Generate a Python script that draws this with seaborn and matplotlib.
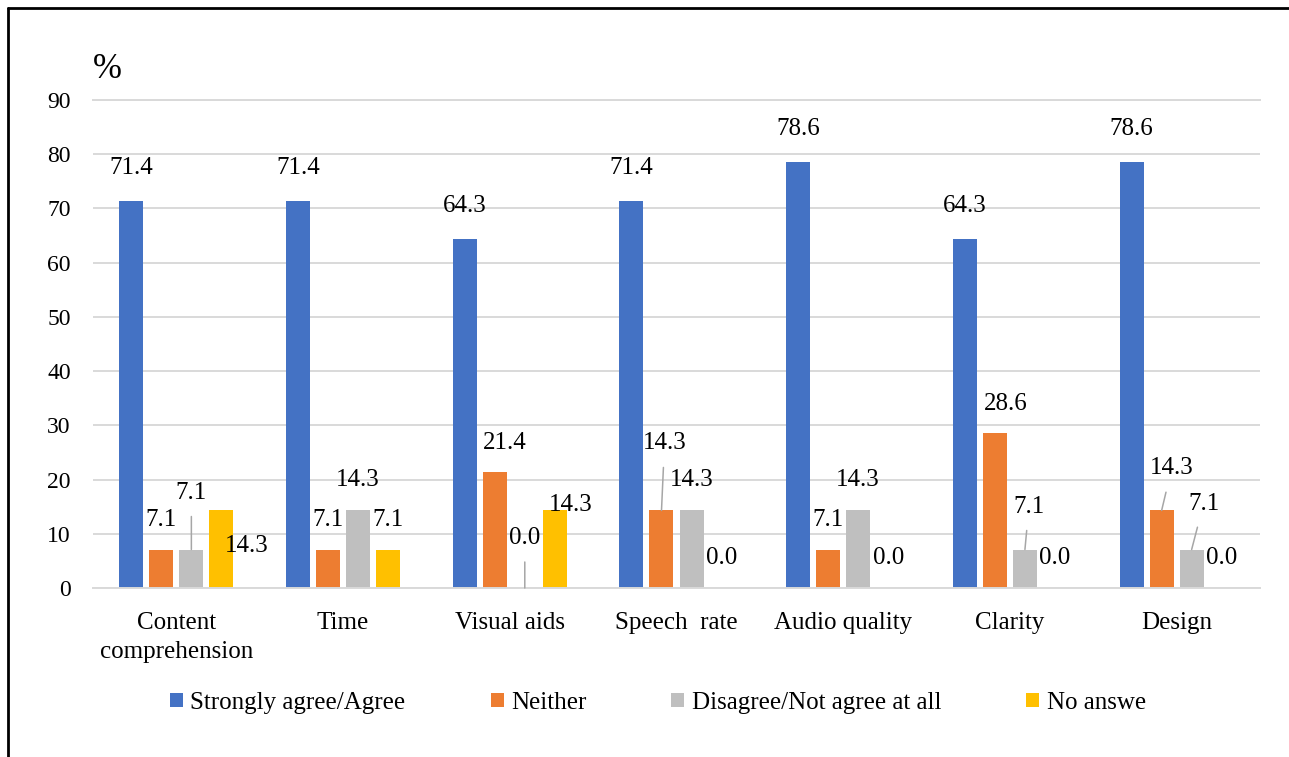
import matplotlib
matplotlib.use("Agg")
import matplotlib.pyplot as plt
from matplotlib.lines import Line2D
from matplotlib.patches import Patch
import seaborn as sns
import pandas as pd

categories = ["Content\ncomprehension", "Time", "Visual aids", "Speech  rate",
              "Audio quality", "Clarity", "Design"]
series_names = ["Strongly agree/Agree", "Neither", "Disagree/Not agree at all", "No answe"]
agree = [71.4, 71.4, 64.3, 71.4, 78.6, 64.3, 78.6]
neither = [7.1, 7.1, 21.4, 14.3, 7.1, 28.6, 14.3]
disagree = [7.1, 14.3, 0.0, 14.3, 14.3, 7.1, 7.1]
no_answer = [14.3, 7.1, 14.3, 0.0, 0.0, 0.0, 0.0]
y_ticks = [0, 10, 20, 30, 40, 50, 60, 70, 80, 90]

colors = ["#4472C4", "#ED7D31", "#BFBFBF", "#FFC000"]

all_series = [agree, neither, disagree, no_answer]
rows = []
for name, vals in zip(series_names, all_series):
    for c, v in zip(categories, vals):
        rows.append({"Category": c, "Response": name, "Value": v})
df = pd.DataFrame(rows)

sns.set_style("white")
plt.rcParams["font.family"] = ["Liberation Serif", "DejaVu Serif"]
plt.rcParams["text.color"] = "#000000"

FS = 18

fig = plt.figure(figsize=(12.89, 7.57), dpi=100)
ax = fig.add_axes([93 / 1289, 1 - 588 / 757, (1260 - 93) / 1289, (588 - 100) / 757])

sns.barplot(data=df, x="Category", y="Value", hue="Response", palette=colors,
            saturation=1, width=0.72, gap=0.2, errorbar=None, linewidth=0, ax=ax,
            order=categories, hue_order=series_names)

ax.set_ylim(0, 90)
ax.set_yticks(y_ticks)
ax.set_xlim(-0.5, len(categories) - 0.5)
ax.set_xticks(range(len(categories)), labels=categories, linespacing=1.45)
ax.set_xlabel("")
ax.set_ylabel("")
ax.yaxis.grid(True, color="#D9D9D9", lw=1.4)
ax.set_axisbelow(True)
for s in ["left", "right"]:
    ax.spines[s].set_visible(False)
for s in ["top", "bottom"]:
    ax.spines[s].set_color("#D9D9D9")
    ax.spines[s].set_linewidth(1.4)
ax.tick_params(axis="y", length=0, pad=16, labelsize=FS - 1, colors="#000000")
ax.tick_params(axis="x", length=0, pad=17, labelsize=FS, colors="#000000")

# label offsets in pixels (dx, dy) from bar top centre; leader flag
default_off = (0, 30)
special = {
    (0, 2): (0, 57, True),
    (0, 3): (25, -36, False),
    (2, 1): (10, 29, False),
    (2, 2): (0, 50, True),
    (2, 3): (16, 5, False),
    (3, 1): (3, 67, True),
    (5, 1): (11, 29, False),
    (5, 2): (4, 43, True),
    (6, 1): (10, 42, True),
    (6, 2): (12, 46, True),
}

for j, cont in enumerate(ax.containers):
    for i, bar in enumerate(cont):
        val = all_series[j][i]
        x = bar.get_x() + bar.get_width() / 2
        y = bar.get_height()
        if (i, j) in special:
            dx, dy, lead = special[(i, j)]
        elif j == 0:
            dx, dy, lead = 0, 33, False
        else:
            dx, dy, lead = default_off[0], default_off[1], False
        kw = {}
        if lead:
            kw["arrowprops"] = dict(arrowstyle="-", color="#A6A6A6", lw=1.1,
                                    shrinkA=7, shrinkB=0)
        ax.annotate(f"{val:.1f}", xy=(x, y), xytext=(dx, dy),
                    textcoords="offset pixels", ha="center", va="center",
                    fontsize=FS, color="#000000", annotation_clip=False, **kw)

leg = ax.get_legend()
if leg is not None:
    leg.remove()
handles = [Patch(facecolor=c, edgecolor="none") for c in colors]
fig.legend(handles, series_names, loc="center", bbox_to_anchor=(658 / 1289, 1 - 703 / 757),
           ncol=4, frameon=False, fontsize=FS, handlelength=0.52, handleheight=0.52,
           handletextpad=0.3, columnspacing=3.4)

fig.text(93 / 1289, 1 - 70 / 757, "%", fontsize=25, ha="left", va="center")

# outer frame (left and top edges)
fig.add_artist(Line2D([8 / 1289, 8 / 1289], [0, 1 - 8 / 757], color="black", lw=2,
                      transform=fig.transFigure))
fig.add_artist(Line2D([8 / 1289, 1], [1 - 8 / 757, 1 - 8 / 757], color="black", lw=2,
                      transform=fig.transFigure))

fig.savefig("out.png", dpi=100)
